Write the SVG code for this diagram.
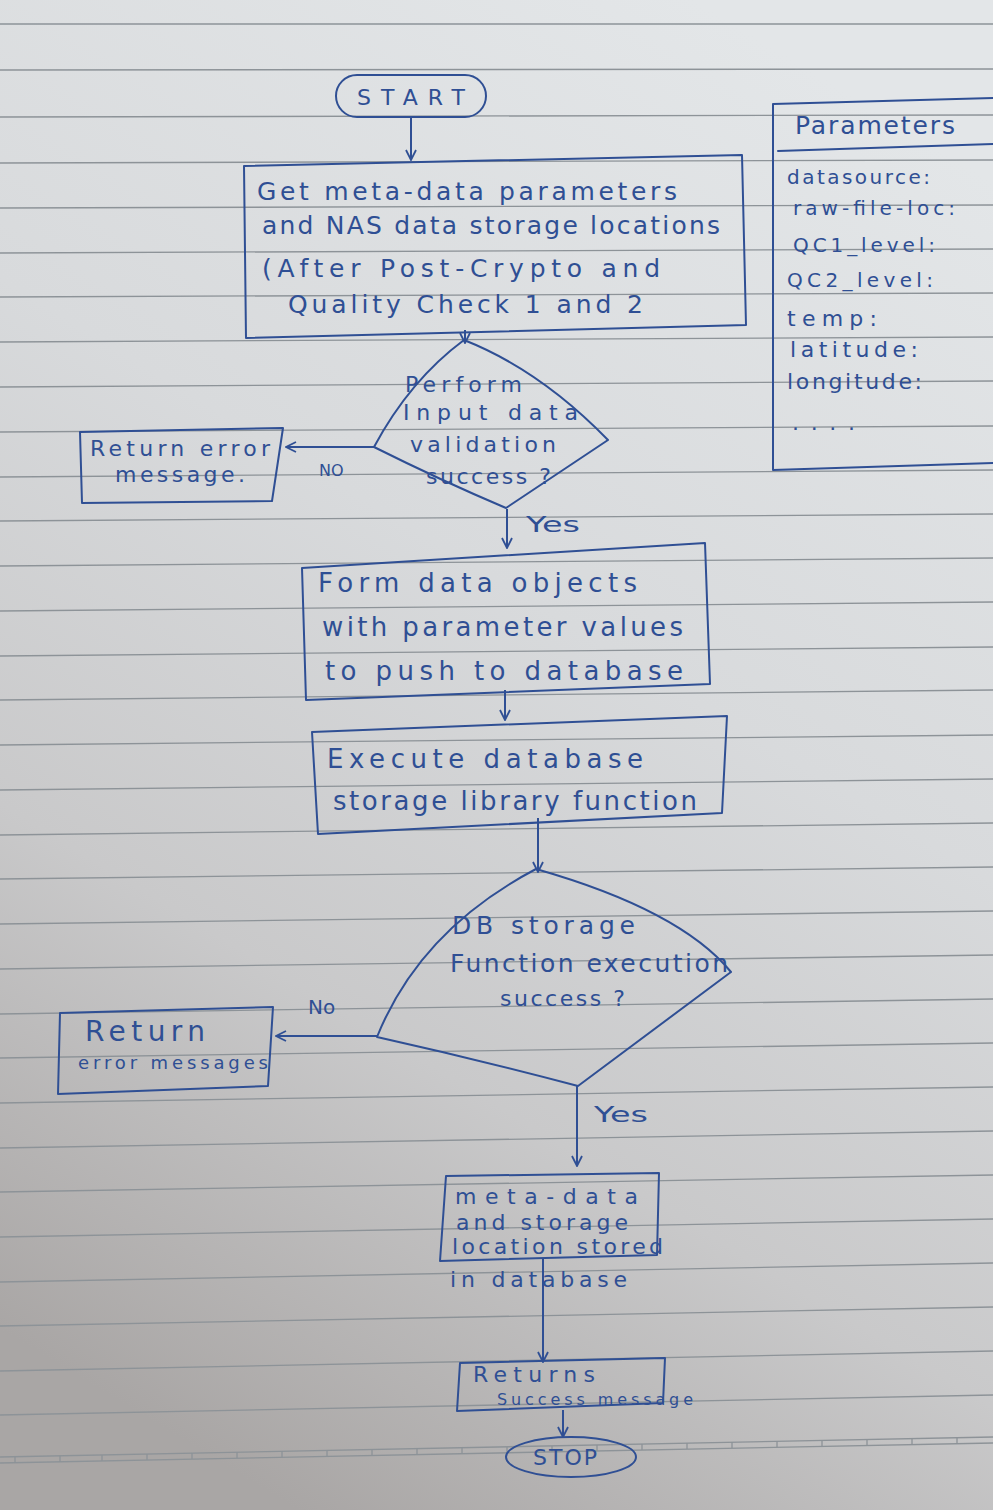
<svg xmlns="http://www.w3.org/2000/svg" width="993" height="1510" viewBox="0 0 993 1510">
<defs>
<linearGradient id="paper" x1="0.7" y1="0" x2="0.3" y2="1">
<stop offset="0" stop-color="#e3e6e8"/>
<stop offset="0.4" stop-color="#d8dadc"/>
<stop offset="0.7" stop-color="#c9c9ca"/>
<stop offset="1" stop-color="#a9a6a5"/>
</linearGradient>
<marker id="ah" viewBox="0 0 12 12" refX="11" refY="6" markerWidth="12" markerHeight="12" markerUnits="userSpaceOnUse" orient="auto">
<path d="M1,1 L11,6 L1,11" fill="none" stroke="#2f4f94" stroke-width="1.8"/>
</marker>
<style>
.rule{stroke:#8d9398;stroke-width:1.3;fill:none}
.ink{stroke:#2f4f94;stroke-width:2;fill:none;stroke-linejoin:round;stroke-linecap:round}
.t{font-family:"DejaVu Sans","Liberation Sans",sans-serif;fill:#2f4f94;font-size:25px}
.b{font-size:26px}
.s{font-size:22px}
.p{font-size:20px}
.m{font-size:18px}
.xs{font-size:16px}
.big{font-size:28px}
.con{stroke:#2f4f94;stroke-width:2;fill:none;marker-end:url(#ah)}
</style>
</defs>
<rect width="993" height="1510" fill="url(#paper)"/>
<g id="paper-lines">
<path class="rule" d="M0,24 L993,24"/>
<path class="rule" d="M0,70 L993,69"/>
<path class="rule" d="M0,117 L993,115"/>
<path class="rule" d="M0,163 L993,160"/>
<path class="rule" d="M0,208 L993,205"/>
<path class="rule" d="M0,253 L993,249"/>
<path class="rule" d="M0,297 L993,293"/>
<path class="rule" d="M0,342 L993,337"/>
<path class="rule" d="M0,387 L993,381"/>
<path class="rule" d="M0,432 L993,426"/>
<path class="rule" d="M0,477 L993,470"/>
<path class="rule" d="M0,521 L993,514"/>
<path class="rule" d="M0,566 L993,558"/>
<path class="rule" d="M0,611 L993,602"/>
<path class="rule" d="M0,656 L993,647"/>
<path class="rule" d="M0,700 L993,690"/>
<path class="rule" d="M0,745 L993,735"/>
<path class="rule" d="M0,790 L993,779"/>
<path class="rule" d="M0,835 L993,823"/>
<path class="rule" d="M0,879 L993,867"/>
<path class="rule" d="M0,924 L993,911"/>
<path class="rule" d="M0,969 L993,955"/>
<path class="rule" d="M0,1014 L993,999"/>
<path class="rule" d="M0,1058 L993,1043"/>
<path class="rule" d="M0,1103 L993,1087"/>
<path class="rule" d="M0,1148 L993,1131"/>
<path class="rule" d="M0,1192 L993,1175"/>
<path class="rule" d="M0,1237 L993,1219"/>
<path class="rule" d="M0,1282 L993,1263"/>
<path class="rule" d="M0,1326 L993,1307"/>
<path class="rule" d="M0,1371 L993,1351"/>
<path class="rule" d="M0,1415 L993,1395"/>
<path class="rule" d="M0,1457 L993,1437" stroke-width="1.6"/>
<path class="rule" d="M0,1463 L993,1443" stroke-width="1.6"/>
<path class="rule" d="M15,1457 v6 M60,1456 v6 M102,1455 v6 M147,1454 v6 M192,1453 v6 M237,1452 v6 M282,1451 v6 M327,1450 v6 M372,1449 v6 M417,1448 v6 M462,1447 v6 M507,1447 v6 M552,1446 v6 M597,1445 v6 M642,1444 v6 M687,1443 v6 M732,1442 v6 M777,1441 v6 M822,1440 v6 M867,1440 v6 M912,1439 v6 M957,1438 v6"/>
</g>
<g id="connectors">
<line class="con" x1="411" y1="118" x2="411" y2="160"/>
<line class="con" x1="465" y1="330" x2="465" y2="343"/>
<line class="con" x1="374" y1="447" x2="286" y2="447"/>
<line class="con" x1="507" y1="509" x2="507" y2="548"/>
<line class="con" x1="505" y1="690" x2="505" y2="720"/>
<line class="con" x1="538" y1="818" x2="538" y2="872"/>
<line class="con" x1="377" y1="1036" x2="276" y2="1036"/>
<line class="con" x1="577" y1="1086" x2="577" y2="1166"/>
<line class="con" x1="543" y1="1258" x2="543" y2="1362"/>
<line class="con" x1="563" y1="1410" x2="563" y2="1437"/>
<text class="t xs" x="319" y="476">NO</text>
<text class="t s" x="526" y="532" textLength="54" lengthAdjust="spacingAndGlyphs">Yes</text>
<text class="t p" x="308" y="1014">No</text>
<text class="t s" x="594" y="1122" textLength="54" lengthAdjust="spacingAndGlyphs">Yes</text>
</g>
<g id="start">
<rect class="ink" x="336" y="75" width="150" height="42" rx="21"/>
<text class="t s" x="357" y="105" textLength="108" lengthAdjust="spacing">START</text>
</g>
<g id="get-params">
<path class="ink" d="M244,166 L742,155 L746,325 L246,338 Z"/>
<text class="t" x="257" y="200" textLength="420" lengthAdjust="spacing">Get meta-data parameters</text>
<text class="t" x="262" y="234" textLength="458" lengthAdjust="spacing">and NAS data storage locations</text>
<text class="t" x="262" y="277" textLength="398" lengthAdjust="spacing">(After Post-Crypto and</text>
<text class="t" x="288" y="313" textLength="355" lengthAdjust="spacing">Quality Check 1 and 2</text>
</g>
<g id="validate">
<path class="ink" d="M464,340 Q540,370 608,440 L506,508 Q440,480 374,447 Q410,380 464,340 Z"/>
<text class="t s" x="405" y="392" textLength="117" lengthAdjust="spacing">Perform</text>
<text class="t s" x="403" y="420" textLength="175" lengthAdjust="spacing">Input data</text>
<text class="t s" x="410" y="452" textLength="146" lengthAdjust="spacing">validation</text>
<text class="t s" x="426" y="484" textLength="125" lengthAdjust="spacing">success ?</text>
</g>
<g id="error-1">
<path class="ink" d="M80,432 L283,428 L272,501 L82,503 Z"/>
<text class="t s" x="90" y="456" textLength="180" lengthAdjust="spacing">Return error</text>
<text class="t s" x="115" y="482" textLength="130" lengthAdjust="spacing">message.</text>
</g>
<g id="form-objects">
<path class="ink" d="M302,568 L705,543 L710,684 L306,700 Z"/>
<text class="t b" x="318" y="592" textLength="319" lengthAdjust="spacing">Form data objects</text>
<text class="t b" x="322" y="636" textLength="361" lengthAdjust="spacing">with parameter values</text>
<text class="t b" x="325" y="680" textLength="358" lengthAdjust="spacing">to push to database</text>
</g>
<g id="execute">
<path class="ink" d="M312,732 L727,716 L722,813 L318,834 Z"/>
<text class="t b" x="327" y="768" textLength="316" lengthAdjust="spacing">Execute database</text>
<text class="t b" x="333" y="810" textLength="364" lengthAdjust="spacing">storage library function</text>
</g>
<g id="db-check">
<path class="ink" d="M536,869 Q680,910 731,972 L578,1086 Q480,1060 377,1037 Q420,930 536,869 Z"/>
<text class="t" x="452" y="934" textLength="183" lengthAdjust="spacing">DB storage</text>
<text class="t" x="450" y="972" textLength="278" lengthAdjust="spacing">Function execution</text>
<text class="t s" x="500" y="1006" textLength="125" lengthAdjust="spacing">success ?</text>
</g>
<g id="error-2">
<path class="ink" d="M60,1013 L273,1007 L268,1086 L58,1094 Z"/>
<text class="t big" x="85" y="1041" textLength="120" lengthAdjust="spacing">Return</text>
<text class="t m" x="78" y="1069" textLength="190" lengthAdjust="spacing">error messages</text>
</g>
<g id="stored">
<path class="ink" d="M446,1176 L659,1173 L657,1255 L440,1261 Z"/>
<text class="t s" x="455" y="1204" textLength="183" lengthAdjust="spacing">meta-data</text>
<text class="t s" x="456" y="1230" textLength="172" lengthAdjust="spacing">and storage</text>
<text class="t s" x="452" y="1254" textLength="211" lengthAdjust="spacing">location stored</text>
<text class="t s" x="450" y="1287" textLength="177" lengthAdjust="spacing">in database</text>
</g>
<g id="success">
<path class="ink" d="M460,1363 L665,1358 L663,1403 L457,1411 Z"/>
<text class="t s" x="473" y="1382" textLength="122" lengthAdjust="spacing">Returns</text>
<text class="t xs" x="497" y="1405" textLength="196" lengthAdjust="spacing">Success message</text>
</g>
<g id="stop">
<ellipse class="ink" cx="571" cy="1457" rx="65" ry="20"/>
<text class="t s" x="533" y="1465" textLength="64" lengthAdjust="spacing">STOP</text>
</g>
<g id="parameters">
<path class="ink" d="M993,98 L773,104 L773,470 L993,463"/>
<path class="ink" d="M778,151 L993,144"/>
<text class="t" x="795" y="134" textLength="160" lengthAdjust="spacing">Parameters</text>
<text class="t p" x="787" y="184" textLength="143" lengthAdjust="spacing">datasource:</text>
<text class="t p" x="793" y="215" textLength="162" lengthAdjust="spacing">raw-file-loc:</text>
<text class="t p" x="793" y="252" textLength="142" lengthAdjust="spacing">QC1_level:</text>
<text class="t p" x="787" y="287" textLength="146" lengthAdjust="spacing">QC2_level:</text>
<text class="t s" x="787" y="326" textLength="90" lengthAdjust="spacing">temp:</text>
<text class="t s" x="790" y="357" textLength="128" lengthAdjust="spacing">latitude:</text>
<text class="t s" x="787" y="389" textLength="135" lengthAdjust="spacing">longitude:</text>
<text class="t s" x="792" y="430" textLength="63" lengthAdjust="spacing">....</text>
</g>
</svg>
